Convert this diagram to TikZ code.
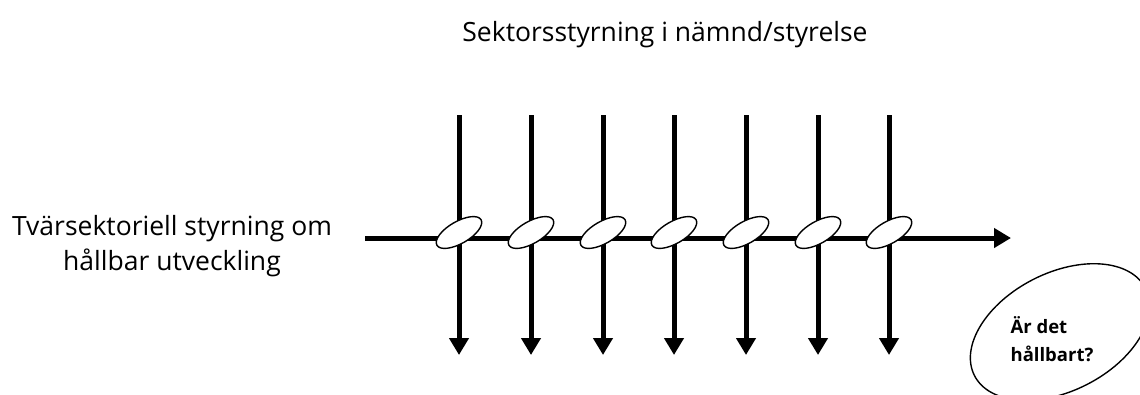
\documentclass[tikz,border=0pt]{standalone}
\usepackage{fontspec}
\setmainfont{Open Sans}
\usetikzlibrary{arrows.meta,shapes.geometric}
\tikzset{
  flow/.style={line width=5pt,-{Triangle[length=17pt,width=19pt]}},
  knot/.style={draw,fill=white,ellipse,line width=1.4pt,minimum width=51pt,minimum height=22pt,inner sep=0pt,rotate=30},
  lbl/.style={font=\fontsize{26.5}{35}\selectfont,align=center}
}
\begin{document}
\begin{tikzpicture}[x=1pt,y=-1pt]
\useasboundingbox (0,0) rectangle (1140,394);
\clip (0,0) rectangle (1140,394);
\node[lbl] (title) at (665,35) {Sektorsstyrning i nämnd/styrelse};
\node[lbl] (left) at (172,246) {Tvärsektoriell styrning om\\hållbar utveckling};
\coordinate (hs) at (365,238);
\coordinate (he) at (1011,238);
\draw[flow] (hs) -- (he);
\foreach \i/\x in {1/459,2/531,3/603,4/674,5/746,6/818,7/889}{
  \coordinate (t\i) at (\x,115);
  \coordinate (b\i) at (\x,355);
  \draw[flow] (t\i) -- (b\i);
}
\foreach \i/\x in {1/459,2/531,3/603,4/674,5/746,6/818,7/889}{
  \node[knot] (k\i) at (\x,232.5) {};
}
\node[draw,ellipse,line width=1.4pt,minimum width=192pt,minimum height=118pt,rotate=27] (q) at (1060,332) {};
\node[font=\bfseries\fontsize{18.5}{28}\selectfont,align=left] (qt) at (1052,339) {Är det\\hållbart?};
\end{tikzpicture}
\end{document}
